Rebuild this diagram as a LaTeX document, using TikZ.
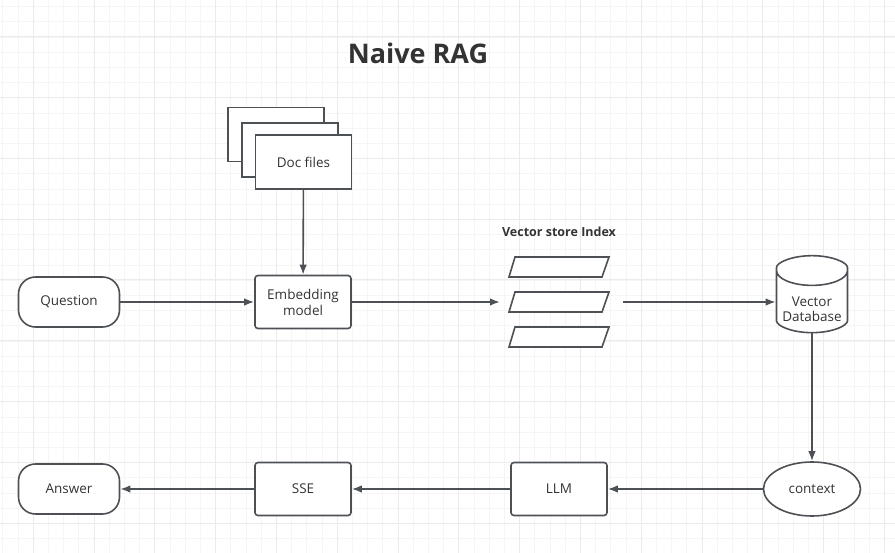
\documentclass[tikz,border=0pt]{standalone}
\usepackage{fontspec}
\setmainfont{Open Sans}
\usepackage{tikz}
\usetikzlibrary{arrows.meta, shapes.geometric}
\definecolor{lineclr}{HTML}{4D5155}
\definecolor{txtclr}{HTML}{333333}
\definecolor{gridminor}{HTML}{F5F5F5}
\definecolor{gridmajor}{HTML}{EBEBEB}
\tikzset{
  box/.style={draw=lineclr, line width=1.6pt, fill=white, rounded corners=3pt,
    minimum width=96pt, minimum height=53pt, inner sep=0pt, align=center,
    text=txtclr, font=\fontsize{13.5}{16}\selectfont},
  doc/.style={box, rounded corners=0pt, minimum height=54pt},
  term/.style={box, rounded corners=17pt, minimum width=101pt, minimum height=50pt},
  oval/.style={box, ellipse, minimum width=97pt, minimum height=54pt},
  dbase/.style={box, cylinder, shape border rotate=90, aspect=0.5,
    minimum width=71pt, minimum height=77pt},
  vec/.style={draw=lineclr, line width=1.6pt, fill=white},
  link/.style={draw=lineclr, line width=1.6pt, -{Latex[length=10pt,width=7.5pt]}}
}
\begin{document}
\begin{tikzpicture}[x=1pt, y=-1pt]
\useasboundingbox (0,0) rectangle (895,553);
%% background grid
\foreach \k in {0,...,58} {
  \draw[gridminor, line width=1pt] (2.9+15.2*\k,0) -- (2.9+15.2*\k,553);
}
\foreach \k in {0,...,36} {
  \draw[gridminor, line width=1pt] (0,6.7+15.2*\k) -- (895,6.7+15.2*\k);
}
\foreach \k in {0,...,14} {
  \draw[gridmajor, line width=1pt] (33.3+60.8*\k,0) -- (33.3+60.8*\k,553);
}
\foreach \k in {0,...,8} {
  \draw[gridmajor, line width=1pt] (0,36.7+60.8*\k) -- (895,36.7+60.8*\k);
}
%% title
\node[text=txtclr, font=\fontsize{27}{32}\selectfont\bfseries] (title) at (418,53) {Naive RAG};
%% doc files stack
\node[doc] (doc3) at (276,134.5) {};
\node[doc] (doc2) at (290,150) {};
\node[doc] (docs) at (303.5,162) {Doc files};
%% top row
\node[term] (question) at (69,302) {Question};
\node[box] (embed) at (303,302) {Embedding\\model};
\node[text=txtclr, font=\fontsize{12.5}{15}\selectfont\bfseries] (vsi) at (559,232) {Vector store Index};
\draw[vec] (509,277) -- (602,277) -- (609,257) -- (515,257) -- cycle;
\draw[vec] (509,312) -- (602,312) -- (609,292) -- (515,292) -- cycle;
\draw[vec] (509,347) -- (602,347) -- (609,327) -- (515,327) -- cycle;
\coordinate (vin) at (500,302);
\coordinate (vout) at (623,302);
\node[dbase] (vdb) at (812,302)
  {\raisebox{-12.5pt}[0pt][0pt]{\begin{tabular}{@{}c@{}}Vector\\[-1pt]Database\end{tabular}}};
%% bottom row
\node[oval] (context) at (812,489) {context};
\node[box] (llm) at (559,489) {LLM};
\node[box] (sse) at (303,489) {SSE};
\node[term] (answer) at (69,489) {Answer};
%% connectors
\draw[link] (docs) -- (embed);
\draw[link] (question) -- (embed);
\draw[link] (embed) -- (vin);
\draw[link] (vout) -- (vdb.west);
\draw[link] (vdb.south) -- (context);
\draw[link] (context) -- (llm);
\draw[link] (llm) -- (sse);
\draw[link] (sse) -- (answer);
\end{tikzpicture}
\end{document}
